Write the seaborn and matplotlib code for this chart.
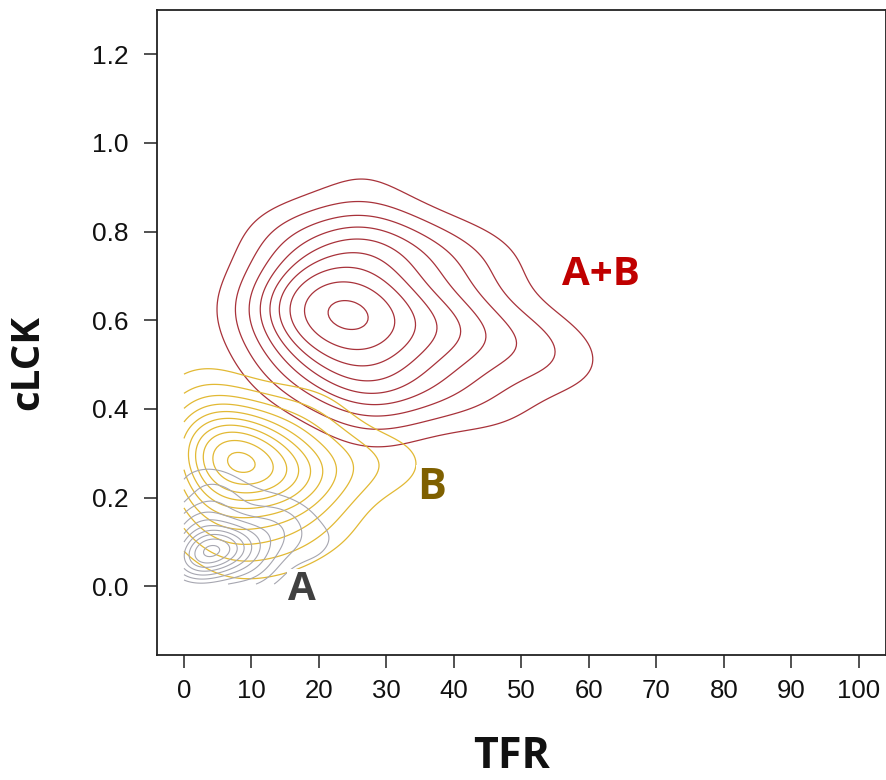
import numpy as np
import pandas as pd
import matplotlib
matplotlib.use("Agg")
import matplotlib.pyplot as plt
import seaborn as sns

sns.set_style("white")
plt.rcParams['font.family'] = ['Liberation Sans', 'DejaVu Sans']

# ---- data: weighted anchor observations read from the picture ----
# group A+B (red)
ab_tfr = [26, 17, 39, 27, 27, 17, 37, 17, 37, 50, 10, 58, 27, 27, 47, 47, 23]
ab_clck = [0.61, 0.62, 0.59, 0.77, 0.46, 0.76, 0.74, 0.49, 0.46, 0.55, 0.60, 0.51, 0.94, 0.34, 0.74, 0.41, 0.635]
ab_w = [4, 2, 2, 2, 2, 1.2, 1.2, 1.2, 1.2, 1.0, 0.35, 0.5, 0.45, 0.4, 0.5, 0.5, 0.8]

# group B (yellow)
b_tfr = [7, 12, 3, 4, 18, 9, 24, 3, 16, 31, 14, 5, 22, 20, 34, 8, 15, 3]
b_clck = [0.28, 0.26, 0.32, 0.20, 0.25, 0.36, 0.28, 0.40, 0.36, 0.27, 0.15, 0.12, 0.14, 0.40, 0.30, 0.06, 0.08, 0.48]
b_w = [4, 3, 2, 2, 2, 1.5, 1, 1, 1, 0.6, 1.2, 1, 0.6, 0.5, 0.3, 0.6, 0.5, 0.4]

# group A (grey)
a_tfr = [3, 6, 2, 9, 2, 12, 6, 16, 20, 10, 1, 14, 4, 23, 12, 18]
a_clck = [0.08, 0.10, 0.04, 0.07, 0.15, 0.12, 0.20, 0.10, 0.06, 0.02, 0.24, 0.16, 0.24, 0.12, 0.20, 0.16]
a_w = [5, 3, 3, 2, 2, 1, 0.8, 0.6, 0.4, 1, 0.4, 0.6, 0.5, 0.4, 0.4, 0.3]

group_names = ["A+B", "B", "A"]
line_colors = ["#A8323A", "#E2B934", "#A6A6B0"]
label_colors = ["#C00000", "#7F6000", "#404040"]
label_pos_tfr = [61.8, 36.7, 17.5]
label_pos_clck = [0.703, 0.223, -0.007]
label_sizes = [29, 31, 29]

x_ticks = [0, 10, 20, 30, 40, 50, 60, 70, 80, 90, 100]
y_ticks = [0.0, 0.2, 0.4, 0.6, 0.8, 1.0, 1.2]

levels_ab = [0.10, 0.20, 0.31, 0.42, 0.53, 0.64, 0.75, 0.86, 0.97]
levels_b = [0.08, 0.17, 0.27, 0.37, 0.47, 0.57, 0.67, 0.77, 0.87, 0.97]
levels_a = [0.08, 0.17, 0.27, 0.37, 0.47, 0.57, 0.67, 0.77, 0.87, 0.97]

fig = plt.figure(figsize=(8.87, 7.8), dpi=100)
ax = fig.add_axes([157 / 887, 1 - 655 / 780, (886 - 157) / 887, (655 - 10) / 780])

groups = [
    (ab_tfr, ab_clck, ab_w),
    (b_tfr, b_clck, b_w),
    (a_tfr, a_clck, a_w),
]
level_sets = [levels_ab, levels_b, levels_a]
bws = [0.6, 0.7, 0.65]
lws = [0.9, 0.9, 0.8]
clips = [((0, 62), (0, 1.3)), ((0, 100), (0, 1.3)), ((0, 100), (0.005, 1.3))]

for (gx, gy, gw), col, bw, clip, lv, lw in zip(groups, line_colors, bws, clips, level_sets, lws):
    df = pd.DataFrame({"TFR": gx, "cLCK": gy, "w": gw})
    sns.kdeplot(data=df, x="TFR", y="cLCK", weights="w", ax=ax,
                levels=lv, color=col, linewidths=lw,
                bw_method=bw, clip=clip, gridsize=200, cut=6)

for name, tx, ty, c, s in zip(group_names, label_pos_tfr, label_pos_clck, label_colors, label_sizes):
    ax.text(tx, ty, name, color=c, fontsize=s, fontweight="bold",
            family=["Open Sans", "DejaVu Sans"], ha="center", va="center",
            bbox=dict(facecolor="white", edgecolor="none", pad=1))

ax.set_xlim(-4, 104)
ax.set_ylim(-0.155, 1.30)
ax.set_xticks(x_ticks)
ax.set_xticklabels([str(v) for v in x_ticks], fontsize=18.5, color="#111111")
ax.set_yticks(y_ticks)
ax.set_yticklabels([f"{v:.1f}" for v in y_ticks], fontsize=19, color="#111111")
ax.tick_params(axis="both", direction="out", length=9.5, width=1.1, color="#222222",
               left=True, bottom=True)
ax.tick_params(axis="x", pad=8)
ax.tick_params(axis="y", pad=11)
for sp in ax.spines.values():
    sp.set_visible(True)
    sp.set_color("#222222")
    sp.set_linewidth(1.3)

ax.set_xlabel("")
ax.set_ylabel("")
fig.text(512 / 887, 1 - 757 / 780, "TFR", fontsize=31, fontweight="bold",
         family=["Open Sans", "DejaVu Sans"], ha="center", va="center", color="#111111")
fig.text(28 / 887, 1 - 362 / 780, "cLCK", fontsize=29, fontweight="bold",
         family=["Open Sans", "DejaVu Sans"], ha="center", va="center", rotation=90,
         color="#111111")

fig.savefig("out.png", dpi=100)
